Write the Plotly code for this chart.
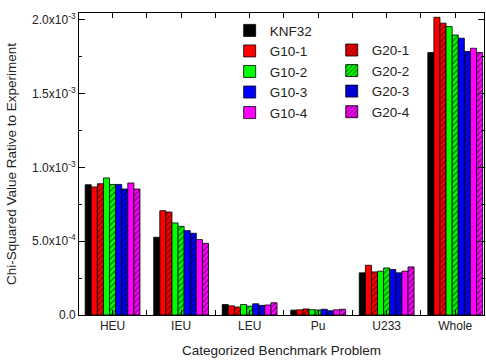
import plotly.graph_objects as go

CATEGORIES = ["HEU", "IEU", "LEU", "Pu", "U233", "Whole"]
SERIES = ["KNF32", "G10-1", "G20-1", "G10-2", "G20-2", "G10-3", "G20-3", "G10-4", "G20-4"]
COLORS = ["#000000", "#ff0000", "#ff0000", "#00ff00", "#00ff00", "#0000ff", "#0000ff", "#ff00ff", "#ff00ff"]
HATCHED = [False, False, True, False, True, False, True, False, True]

# values in units of 1e-3
KNF32 = [0.883, 0.527, 0.071, 0.033, 0.286, 1.779]
G10_1 = [0.868, 0.707, 0.062, 0.035, 0.337, 2.018]
G20_1 = [0.890, 0.698, 0.054, 0.041, 0.292, 1.978]
G10_2 = [0.929, 0.624, 0.071, 0.036, 0.297, 1.955]
G20_2 = [0.885, 0.601, 0.060, 0.034, 0.319, 1.898]
G10_3 = [0.885, 0.572, 0.076, 0.039, 0.308, 1.876]
G20_3 = [0.854, 0.554, 0.065, 0.029, 0.286, 1.786]
G10_4 = [0.895, 0.511, 0.068, 0.035, 0.297, 1.808]
G20_4 = [0.854, 0.486, 0.083, 0.039, 0.326, 1.779]
VALUES = [KNF32, G10_1, G20_1, G10_2, G20_2, G10_3, G20_3, G10_4, G20_4]

YTICK_VALS = [0.0, 0.5e-3, 1.0e-3, 1.5e-3, 2.0e-3]
YTICK_TEXT = ["0.0", "5.0x10<sup>-4</sup>", "1.0x10<sup>-3</sup>", "1.5x10<sup>-3</sup>", "2.0x10<sup>-3</sup>"]

FONT = "Liberation Sans, Arial, sans-serif"
xs = list(range(len(CATEGORIES)))

fig = go.Figure()
for name, vals, col, hat in zip(SERIES, VALUES, COLORS, HATCHED):
    marker = dict(color=col, line=dict(color="black", width=0.8))
    if hat:
        marker["pattern"] = dict(shape="/", fgcolor="black", bgcolor=col, size=4, solidity=0.35)
    legend = "legend2" if name.startswith("G20") else "legend"
    fig.add_trace(go.Bar(x=xs, y=[v * 1e-3 for v in vals], name=name, marker=marker, legend=legend))

fig.update_layout(
    width=486, height=361,
    margin=dict(l=79, r=2, t=13, b=46, autoexpand=False),
    paper_bgcolor="white", plot_bgcolor="white",
    barmode="group", bargap=0.2, bargroupgap=0,
    font=dict(family=FONT, size=12, color="#222"),
    legend=dict(x=0.372, y=0.993, xanchor="left", yanchor="top", bgcolor="rgba(0,0,0,0)",
                font=dict(size=13.5, family=FONT, color="#222"), tracegroupgap=0, itemwidth=30),
    legend2=dict(x=0.624, y=0.928, xanchor="left", yanchor="top", bgcolor="rgba(0,0,0,0)",
                 font=dict(size=13.5, family=FONT, color="#222"), tracegroupgap=0, itemwidth=30),
)
fig.update_xaxes(
    range=[-0.49, 5.42], tickvals=xs, ticktext=CATEGORIES,
    showline=True, linecolor="black", linewidth=1, mirror="allticks",
    ticks="inside", ticklen=5, tickcolor="black",
    minor=dict(dtick=0.5, tick0=0.5, ticks="inside", ticklen=5, tickcolor="black"),
    showgrid=False, zeroline=False, automargin=False,
    tickfont=dict(size=12, family=FONT, color="#222"),
    title=dict(text="Categorized Benchmark Problem", font=dict(size=13.5, family=FONT, color="#222"), standoff=13),
)
fig.update_yaxes(
    range=[0, 2.047e-3], tickvals=YTICK_VALS, ticktext=YTICK_TEXT,
    showline=True, linecolor="black", linewidth=1, mirror="allticks",
    ticks="inside", ticklen=6, tickcolor="black",
    minor=dict(dtick=0.25e-3, tick0=0, ticks="inside", ticklen=3, tickcolor="black"),
    showgrid=False, zeroline=False, automargin=False,
    tickfont=dict(size=12, family=FONT, color="#222"),
    title=dict(text="Chi-Squared Value Rative to Experiment", font=dict(size=13.5, family=FONT, color="#222"), standoff=12),
)
fig.write_html("out.html", config={"displayModeBar": False},
               post_script="document.body.style.margin='0px';")
